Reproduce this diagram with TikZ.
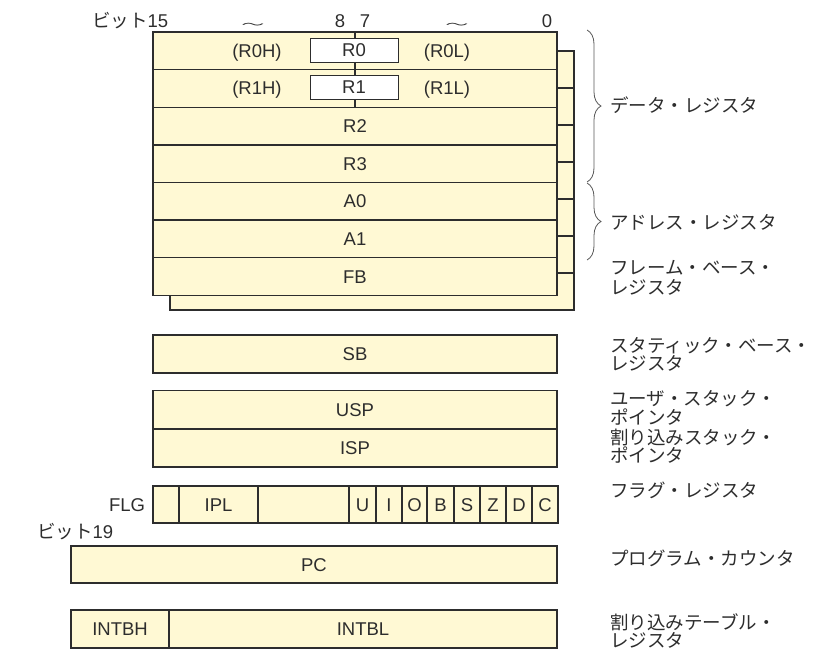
\documentclass[tikz,border=0pt]{standalone}
\usepackage{fontspec}
\setmainfont{Liberation Sans}
\newfontfamily\jp{Noto Sans CJK JP}
\usetikzlibrary{decorations.pathreplacing}
\definecolor{regfill}{RGB}{255,249,212}
\definecolor{ink}{RGB}{45,45,45}
\begin{document}
\begin{tikzpicture}[x=1pt,y=-1pt,
  reg/.style={draw=ink,line width=1.4pt,fill=regfill,inner sep=0pt,
    minimum height=37.6pt,font=\fontsize{18.5}{20}\selectfont,text=ink,
    text height=13.2pt,text depth=0pt},
  wbox/.style={draw=ink,line width=1pt,fill=white,inner sep=0pt,
    minimum width=88pt,minimum height=24pt,font=\fontsize{18.5}{20}\selectfont,
    text=ink,text height=13.2pt,text depth=0pt},
  lat/.style={inner sep=0pt,font=\fontsize{18.5}{20}\selectfont,text=ink,
    text height=13.2pt,text depth=0pt},
  jlab/.style={anchor=west,inner sep=0pt,font=\jp\fontsize{18.5}{20}\selectfont,
    text=ink,text height=14pt,text depth=0pt},
  bracestyle/.style={draw=ink!80,line width=0.8pt,decorate,
    decoration={brace,amplitude=14pt}}
]
\useasboundingbox (0,0) rectangle (823,651);

% back (shadow) register bank
\foreach \i/\c in {1/69.5,2/106.5,3/143.5,4/180.5,5/217.5,6/254.5,7/291.5}
  \node[reg,minimum width=404pt,minimum height=37pt] (b\i) at (372,\c) {};

% front register bank
\node[reg,minimum width=404pt] (row0) at (355,50.8) {};
\node[reg,minimum width=404pt] (row1) at (355,88.4) {};
\node[reg,minimum width=404pt] (r2) at (355,126) {R2};
\node[reg,minimum width=404pt] (r3) at (355,163.6) {R3};
\node[reg,minimum width=404pt] (a0) at (355,201.2) {A0};
\node[reg,minimum width=404pt] (a1) at (355,238.8) {A1};
\node[reg,minimum width=404pt] (fb) at (355,276.4) {FB};

\draw[ink,line width=1.4pt] (row0.north) -- (row1.south);
\node[wbox] (r0) at (354,50) {R0};
\node[wbox] (r1) at (354,87) {R1};
\node[lat] (r0h) at (257,51) {(R0H)};
\node[lat] (r0l) at (447,51) {(R0L)};
\node[lat] (r1h) at (257,88) {(R1H)};
\node[lat] (r1l) at (447,88) {(R1L)};

% bit labels
\node[lat,anchor=west] (bit15) at (92,21) {{\jp ビット}15};
\node[lat] (t1) at (253,22) {\scalebox{1.25}[0.55]{\jp 〜}};
\node[lat] (n8) at (340,21) {8};
\node[lat] (n7) at (365,21) {7};
\node[lat] (t2) at (457,22) {\scalebox{1.25}[0.55]{\jp 〜}};
\node[lat] (n0) at (547,21) {0};

% braces
\coordinate (d1) at (587,30);
\coordinate (d2) at (587,182);
\coordinate (ad1) at (587,183);
\coordinate (ad2) at (587,260);
\draw[bracestyle] (d1) -- (d2);
\draw[bracestyle] (ad1) -- (ad2);

\node[jlab] (ldata) at (610,105) {データ・レジスタ};
\node[jlab] (laddr) at (610,222) {アドレス・レジスタ};
\node[jlab] (lfb1) at (610,267) {フレーム・ベース・};
\node[jlab] (lfb2) at (610,287) {レジスタ};

% SB, USP, ISP
\node[reg,minimum width=404pt,minimum height=38pt] (sb) at (355,354) {SB};
\node[reg,minimum width=404pt,minimum height=38.5pt] (usp) at (355,409.5) {USP};
\node[reg,minimum width=404pt,minimum height=38pt] (isp) at (355,448) {ISP};

\node[jlab] (lsb1) at (610,345) {スタティック・ベース・};
\node[jlab] (lsb2) at (610,363) {レジスタ};
\node[jlab] (lusp1) at (610,398) {ユーザ・スタック・};
\node[jlab] (lusp2) at (610,417) {ポインタ};
\node[jlab] (lisp1) at (610,437) {割り込みスタック・};
\node[jlab] (lisp2) at (610,455) {ポインタ};

% FLG
\node[lat] (flg) at (127,505) {FLG};
\foreach \a/\b/\t/\n in {153/179//f0,179/258/IPL/f1,258/349//f2,349/376/U/f3,
  376/402/I/f4,402/427/O/f5,427/454/B/f6,454/480/S/f7,480/506/Z/f8,
  506/532/D/f9,532/558/C/f10}
  \node[reg,minimum width={(\b-\a)*1pt},minimum height=37pt] (\n) at ({(\a+\b)/2},504.5) {\t};
\node[jlab] (lflg) at (610,490) {フラグ・レジスタ};

% PC
\node[lat,anchor=west] (bit19) at (37,532) {{\jp ビット}19};
\node[reg,minimum width=486pt,minimum height=37pt] (pc) at (314,564.5) {PC};
\node[jlab] (lpc) at (610,558) {プログラム・カウンタ};

% INTB
\node[reg,minimum width=98pt,minimum height=38pt] (intbh) at (120,629) {INTBH};
\node[reg,minimum width=388pt,minimum height=38pt] (intbl) at (363,629) {INTBL};
\node[jlab] (lint1) at (610,622) {割り込みテーブル・};
\node[jlab] (lint2) at (610,640) {レジスタ};
\end{tikzpicture}
\end{document}
